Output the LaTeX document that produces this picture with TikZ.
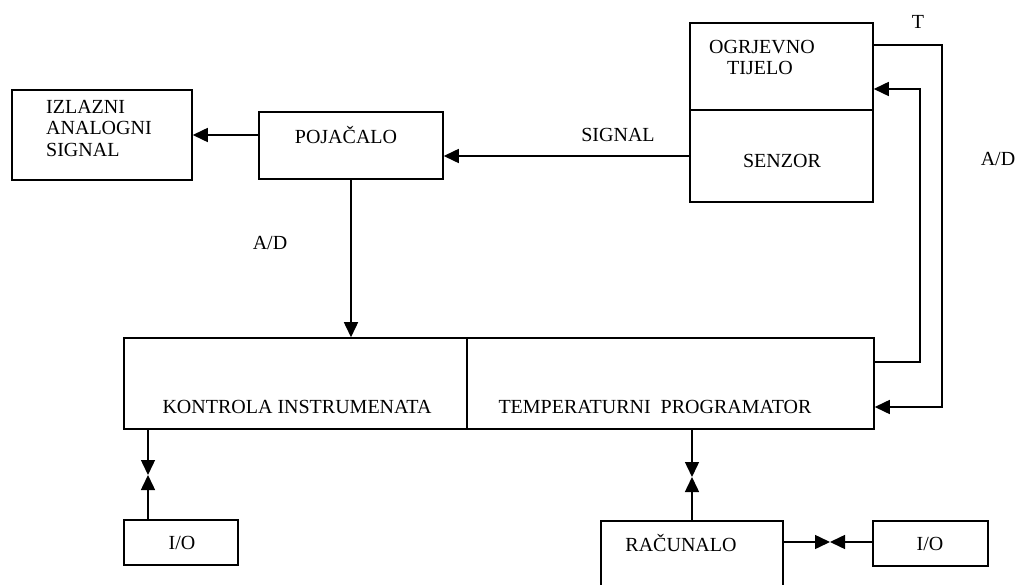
\documentclass[tikz,border=0pt]{standalone}
\usepackage{fontspec}
\setmainfont{Liberation Serif}
\usetikzlibrary{arrows.meta}
\begin{document}
\begin{tikzpicture}[x=1pt,y=-1pt,
  box/.style={draw, line width=1.5pt, inner sep=0pt},
  txt/.style={font=\fontsize{20}{21.5}\selectfont, inner sep=0pt, align=left},
  conn/.style={line width=1.5pt},
  arr/.style={conn, -{Triangle[length=15pt,width=14pt]}}]
\clip (0,0) rectangle (1018,585);
\fill[white] (0,0) rectangle (1018,585);
% boxes
\node[box, minimum width=180, minimum height=90] (izl) at (102,135) {};
\node[box, minimum width=184, minimum height=67] (poj) at (351,145.5) {};
\node[box, minimum width=183, minimum height=87] (ogr) at (781.5,66.5) {};
\node[box, minimum width=183, minimum height=92] (sen) at (781.5,156) {};
\node[box, minimum width=343, minimum height=91] (kon) at (295.5,383.5) {};
\node[box, minimum width=407, minimum height=91] (tmp) at (670.5,383.5) {};
\node[box, minimum width=114, minimum height=45] (io1) at (181,542.5) {};
\node[box, minimum width=182, minimum height=90] (rac) at (692,566) {};
\node[box, minimum width=115, minimum height=45] (io2) at (930.5,543.5) {};
% texts
\node[txt, anchor=west] (tizl) at (46,128) {IZLAZNI\\ANALOGNI\\SIGNAL};
\node[txt] (tpoj) at (346,135) {POJAČALO};
\node[txt, anchor=west] (togr1) at (709,47) {OGRJEVNO};
\node[txt, anchor=west] (togr2) at (727,68) {TIJELO};
\node[txt] (tsen) at (782,161) {SENZOR};
\node[txt] (tsig) at (618,135) {SIGNAL};
\node[txt] (tad1) at (270,243) {A/D};
\node[txt] (tad2) at (998,159) {A/D};
\node[txt] (tT) at (918,22) {T};
\node[txt] (tkon) at (297,407) {KONTROLA INSTRUMENATA};
\node[txt] (ttmp) at (655,407) {TEMPERATURNI\ \ PROGRAMATOR};
\node[txt] (tio1) at (182,543) {I/O};
\node[txt] (trac) at (681,543) {RAČUNALO};
\node[txt] (tio2) at (930,544) {I/O};
% connectors
\draw[arr] (sen.west) -- (sen.west -| poj.east);
\draw[arr] (poj.west |- izl.east) -- (izl.east);
\draw[arr] (poj.south) -- (poj.south |- kon.north);
\coordinate (t1) at (942,45);
\coordinate (t2) at (942,407);
\draw[arr] (ogr.east |- t1) -- (t1) -- (t2) -- (t2 -| tmp.east);
\coordinate (a1) at (920,362);
\coordinate (a2) at (920,89);
\draw[arr] (tmp.east |- a1) -- (a1) -- (a2) -- (a2 -| ogr.east);
\coordinate (m1) at (148,475);
\draw[arr] (kon.south -| m1) -- (m1);
\draw[arr] (io1.north -| m1) -- (m1);
\coordinate (m2) at (692,477);
\draw[arr] (tmp.south -| m2) -- (m2);
\draw[arr] (rac.north -| m2) -- (m2);
\coordinate (m3) at (830,542);
\draw[arr] (rac.east |- m3) -- (m3);
\draw[arr] (io2.west |- m3) -- (m3);
\end{tikzpicture}
\end{document}
